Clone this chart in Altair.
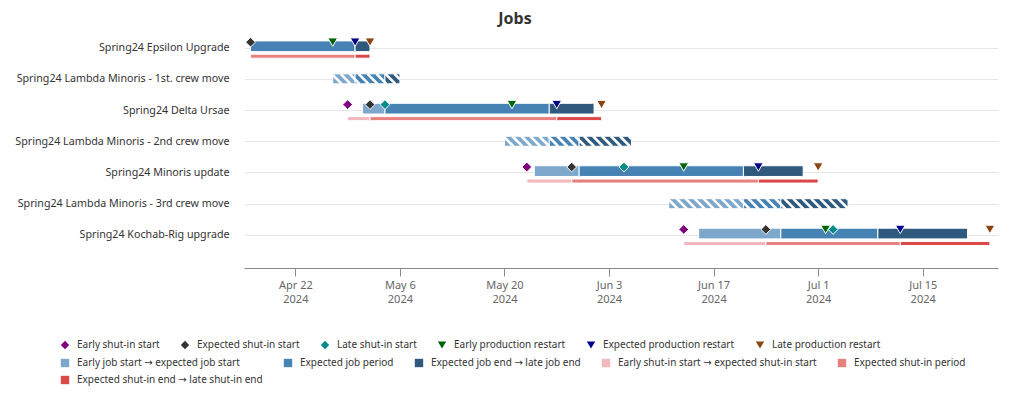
import json
import altair as alt
import pandas as pd

# ---------------- data ----------------
jobs = [
    "Spring24 Epsilon Upgrade",
    "Spring24 Lambda Minoris - 1st. crew move",
    "Spring24 Delta Ursae",
    "Spring24 Lambda Minoris - 2nd crew move",
    "Spring24 Minoris update",
    "Spring24 Lambda Minoris - 3rd crew move",
    "Spring24 Kochab-Rig upgrade",
]
early_job_start = ["2024-04-16", "2024-04-27", "2024-05-01", "2024-05-20", "2024-05-24", "2024-06-11", "2024-06-15"]
expected_job_start = ["2024-04-16", "2024-04-30", "2024-05-04", "2024-05-26", "2024-05-30", "2024-06-21", "2024-06-26"]
expected_job_end = ["2024-04-30", "2024-05-04", "2024-05-26", "2024-05-30", "2024-06-21", "2024-06-26", "2024-07-09"]
late_job_end = ["2024-05-02", "2024-05-06", "2024-06-01", "2024-06-06", "2024-06-29", "2024-07-05", "2024-07-21"]

early_shutin_start = [None, None, "2024-04-29", None, "2024-05-23", None, "2024-06-13"]
expected_shutin_start = ["2024-04-16", None, "2024-05-02", None, "2024-05-29", None, "2024-06-24"]
late_shutin_start = [None, None, "2024-05-04", None, "2024-06-05", None, "2024-07-03"]
early_restart = ["2024-04-27", None, "2024-05-21", None, "2024-06-13", None, "2024-07-02"]
expected_restart = ["2024-04-30", None, "2024-05-27", None, "2024-06-23", None, "2024-07-12"]
late_restart = ["2024-05-02", None, "2024-06-02", None, "2024-07-01", None, "2024-07-24"]

seg_names = [
    "Early job start \u2192 expected job start",
    "Expected job period",
    "Expected job end \u2192 late job end",
    "Early shut-in start \u2192 expected shut-in start",
    "Expected shut-in period",
    "Expected shut-in end \u2192 late shut-in end",
]
seg_colors = ["#7ea7cc", "#4682b4", "#2f5a7e", "#f3b7be", "#e8807f", "#dc4848"]

marker_names = [
    "Early shut-in start",
    "Expected shut-in start",
    "Late shut-in start",
    "Early production restart",
    "Expected production restart",
    "Late production restart",
]
marker_colors = ["#800080", "#333333", "#008b8b", "#006400", "#00008b", "#8b4513"]
marker_shapes = ["diamond", "diamond", "diamond", "triangle-down", "triangle-down", "triangle-down"]

tick_dates = ["2024-04-22", "2024-05-06", "2024-05-20", "2024-06-03", "2024-06-17", "2024-07-01", "2024-07-15"]

# ---------------- derived tables ----------------
ts = lambda s: pd.Timestamp(s) if s else None

bars = []
stripes = []
markers = []
for i, name in enumerate(jobs):
    has_shutin = expected_shutin_start[i] is not None
    if has_shutin:
        jt, jb = i - 0.215, i + 0.128
    else:
        jt, jb = i - 0.16, i + 0.16
    job_pts = [early_job_start[i], expected_job_start[i], expected_job_end[i], late_job_end[i]]
    for k in range(3):
        a, b = ts(job_pts[k]), ts(job_pts[k + 1])
        if a is not None and b is not None and b > a:
            bars.append(dict(row=i, seg=seg_names[k], start=a, end=b, y=jt, y2=jb))
    if has_shutin:
        sh_pts = [early_shutin_start[i], expected_shutin_start[i], expected_restart[i], late_restart[i]]
        for k in range(3):
            a, b = ts(sh_pts[k]), ts(sh_pts[k + 1])
            if a is not None and b is not None and b > a:
                bars.append(dict(row=i, seg=seg_names[3 + k], start=a, end=b, y=i + 0.21, y2=i + 0.34))
        mk = [
            (marker_names[3], early_restart[i]),
            (marker_names[4], expected_restart[i]),
            (marker_names[5], late_restart[i]),
            (marker_names[0], early_shutin_start[i]),
            (marker_names[1], expected_shutin_start[i]),
            (marker_names[2], late_shutin_start[i]),
        ]
        for mname, d in mk:
            if d is not None:
                markers.append(dict(row=i, kind=mname, date=ts(d), y=i - 0.175))
    else:
        # diagonal hatch pattern for jobs without shut-in
        s, e = ts(early_job_start[i]), ts(late_job_end[i])
        total = (e - s) / pd.Timedelta(days=1)
        period, run = 1.2, 1.34
        xt = -run
        while xt < total:
            ta = max(0.0, (0.0 - xt) / run)
            tb = min(1.0, (total - xt) / run)
            if tb > ta:
                stripes.append(dict(
                    x=s + pd.Timedelta(days=xt + ta * run),
                    x2=s + pd.Timedelta(days=xt + tb * run),
                    y=jt + ta * (jb - jt),
                    y2=jt + tb * (jb - jt),
                ))
            xt += period

bars_df = pd.DataFrame(bars)
stripes_df = pd.DataFrame(stripes)
markers_df = pd.DataFrame(markers)

# ---------------- scales / axes ----------------
x_scale = alt.Scale(domain=[alt.DateTime(year=2024, month=4, date=15, hours=3),
                            alt.DateTime(year=2024, month=7, date=25, hours=2)])
y_scale = alt.Scale(domain=[-0.5, 7.06], reverse=True, nice=False, zero=False)

x_axis = alt.Axis(
    values=[alt.DateTime(year=int(d[:4]), month=int(d[5:7]), date=int(d[8:])) for d in tick_dates],
    labelExpr="[timeFormat(datum.value, '%b %-d'), timeFormat(datum.value, '%Y')]",
    grid=False, domainColor="#8a8a8a", tickColor="#8a8a8a", tickSize=8,
    labelColor="#666666", labelFontSize=11, labelPadding=3, labelLineHeight=14,
    labelOverlap=False, title=None,
)
y_axis = alt.Axis(
    values=list(range(len(jobs))),
    labelExpr=json.dumps(jobs) + "[datum.value]",
    grid=True, gridColor="#e6e6e6", domain=False, ticks=False,
    labelPadding=15, labelFontSize=10.7, labelColor="#333333", labelLimit=400, title=None,
)

fill_legend = alt.Legend(
    orient="none", legendX=-184, legendY=326, direction="horizontal", columns=5,
    title=None, labelFont="Noto Sans, DejaVu Sans", labelFontSize=10, labelColor="#333333", labelLimit=400,
    symbolType="square", symbolSize=70, symbolStrokeWidth=0,
    columnPadding=20, rowPadding=7, labelOffset=7, padding=0,
)
marker_legend = alt.Legend(
    orient="none", legendX=-184, legendY=308, direction="horizontal", columns=6,
    title=None, labelFontSize=10, labelColor="#333333", labelLimit=400,
    symbolSize=70, symbolStrokeWidth=0,
    columnPadding=20, labelOffset=7, padding=0,
)

bar_layer = alt.Chart(bars_df).mark_rect(stroke="white", strokeWidth=1, cornerRadius=1.5).encode(
    x=alt.X("start:T", scale=x_scale, axis=x_axis),
    x2="end:T",
    y=alt.Y("y:Q", scale=y_scale, axis=y_axis),
    y2="y2:Q",
    fill=alt.Fill("seg:N", scale=alt.Scale(domain=seg_names, range=seg_colors), legend=fill_legend),
)

stripe_layer = alt.Chart(stripes_df).mark_rule(color="white", strokeWidth=2.6).encode(
    x=alt.X("x:T", scale=x_scale, axis=x_axis),
    x2="x2:T",
    y=alt.Y("y:Q", scale=y_scale, axis=y_axis),
    y2="y2:Q",
)

marker_layer = alt.Chart(markers_df).mark_point(
    filled=True, size=95, opacity=1, stroke="white", strokeWidth=1
).encode(
    x=alt.X("date:T", scale=x_scale, axis=x_axis),
    y=alt.Y("y:Q", scale=y_scale, axis=y_axis),
    color=alt.Color("kind:N", scale=alt.Scale(domain=marker_names, range=marker_colors), legend=marker_legend),
    shape=alt.Shape("kind:N", scale=alt.Scale(domain=marker_names, range=marker_shapes), legend=marker_legend),
)

chart = alt.layer(bar_layer, stripe_layer, marker_layer).properties(
    width=754,
    height=236,
    title=alt.TitleParams("Jobs", fontSize=16, fontWeight="bold", color="#333333",
                          anchor="middle", dx=-106, offset=5),
    autosize=alt.AutoSizeParams(type="none"),
    padding={"left": 236, "top": 24, "right": 18, "bottom": 127},
).configure(font="Noto Sans").configure_view(strokeWidth=0)

chart.save("out.html", embed_options={"renderer": "svg", "actions": False})
